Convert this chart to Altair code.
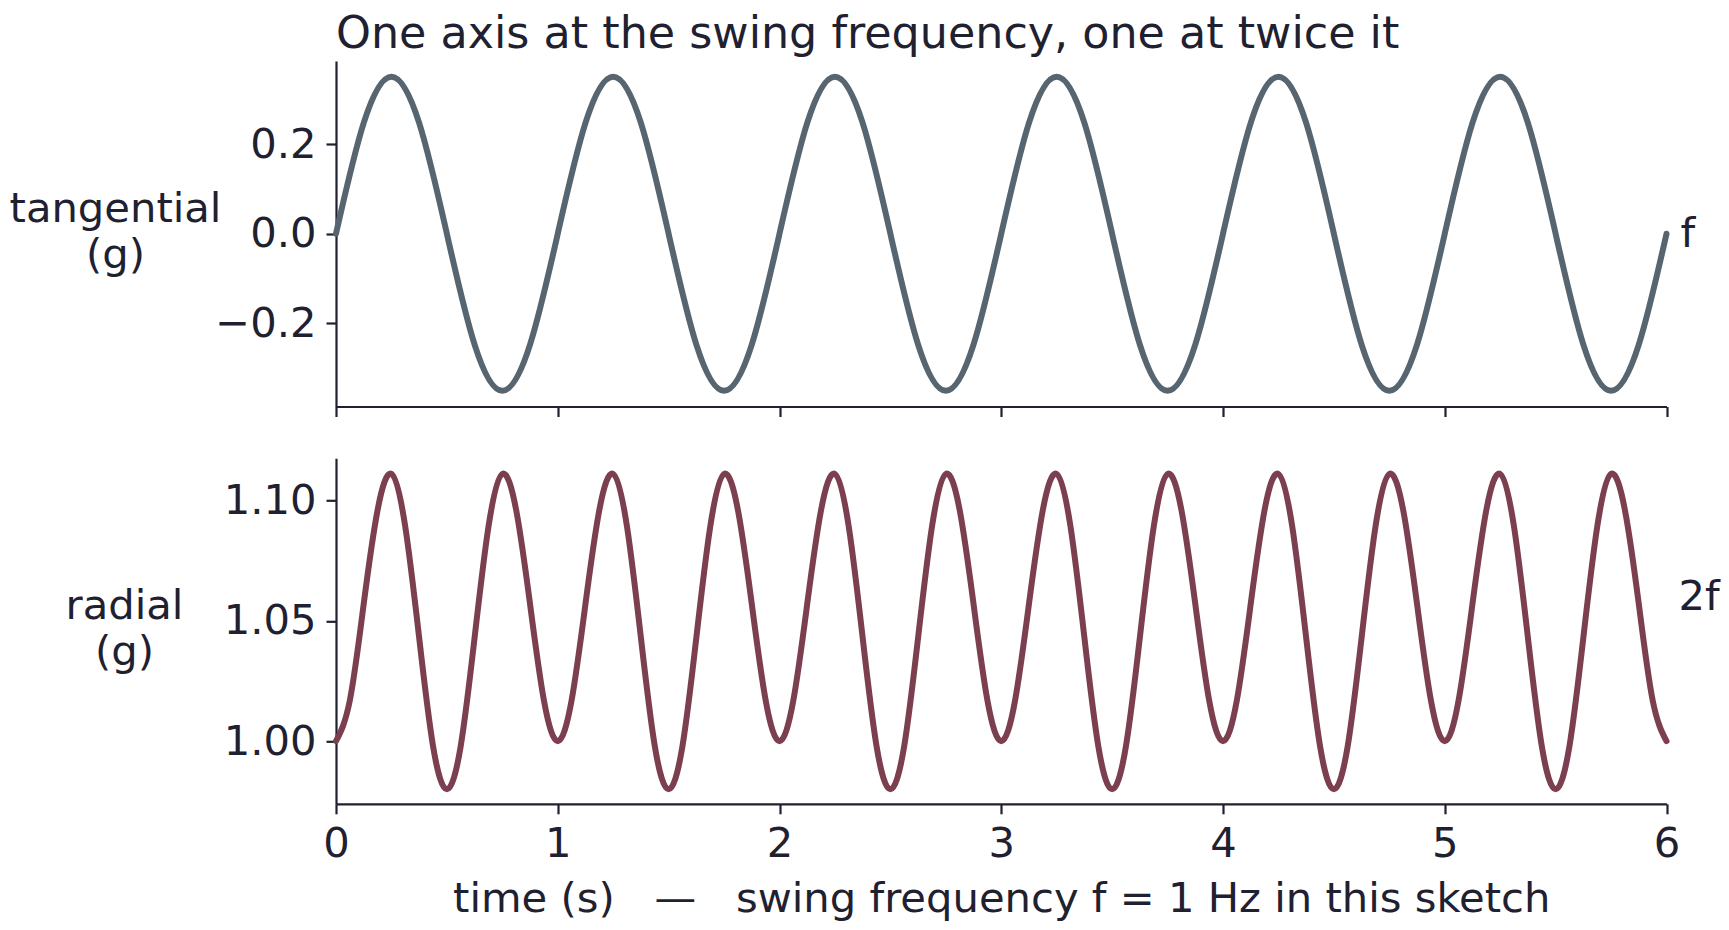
import altair as alt
import pandas as pd

# ---------------- data ----------------
# tangential acceleration, sampled every 1/8 s (swing frequency f = 1 Hz)
t_top = [
    0.0, 0.125, 0.25, 0.375, 0.5, 0.625, 0.75, 0.875,
    1.0, 1.125, 1.25, 1.375, 1.5, 1.625, 1.75, 1.875,
    2.0, 2.125, 2.25, 2.375, 2.5, 2.625, 2.75, 2.875,
    3.0, 3.125, 3.25, 3.375, 3.5, 3.625, 3.75, 3.875,
    4.0, 4.125, 4.25, 4.375, 4.5, 4.625, 4.75, 4.875,
    5.0, 5.125, 5.25, 5.375, 5.5, 5.625, 5.75, 5.875,
    6.0,
]
tangential = [
    0.0, 0.247, 0.35, 0.247, 0.0, -0.247, -0.35, -0.247,
    0.0, 0.247, 0.35, 0.247, 0.0, -0.247, -0.35, -0.247,
    0.0, 0.247, 0.35, 0.247, 0.0, -0.247, -0.35, -0.247,
    0.0, 0.247, 0.35, 0.247, 0.0, -0.247, -0.35, -0.247,
    0.0, 0.247, 0.35, 0.247, 0.0, -0.247, -0.35, -0.247,
    0.0, 0.247, 0.35, 0.247, 0.0, -0.247, -0.35, -0.247,
    0.0,
]

# radial acceleration, sampled every 1/16 s (oscillates at 2f)
t_bot = [
    0.0, 0.0625, 0.125, 0.1875, 0.25, 0.3125, 0.375, 0.4375,
    0.5, 0.5625, 0.625, 0.6875, 0.75, 0.8125, 0.875, 0.9375,
    1.0, 1.0625, 1.125, 1.1875, 1.25, 1.3125, 1.375, 1.4375,
    1.5, 1.5625, 1.625, 1.6875, 1.75, 1.8125, 1.875, 1.9375,
    2.0, 2.0625, 2.125, 2.1875, 2.25, 2.3125, 2.375, 2.4375,
    2.5, 2.5625, 2.625, 2.6875, 2.75, 2.8125, 2.875, 2.9375,
    3.0, 3.0625, 3.125, 3.1875, 3.25, 3.3125, 3.375, 3.4375,
    3.5, 3.5625, 3.625, 3.6875, 3.75, 3.8125, 3.875, 3.9375,
    4.0, 4.0625, 4.125, 4.1875, 4.25, 4.3125, 4.375, 4.4375,
    4.5, 4.5625, 4.625, 4.6875, 4.75, 4.8125, 4.875, 4.9375,
    5.0, 5.0625, 5.125, 5.1875, 5.25, 5.3125, 5.375, 5.4375,
    5.5, 5.5625, 5.625, 5.6875, 5.75, 5.8125, 5.875, 5.9375,
    6.0,
]
radial = [
    1.000, 1.017, 1.057, 1.096, 1.111, 1.089, 1.043, 0.998,
    0.980, 0.998, 1.043, 1.089, 1.111, 1.096, 1.057, 1.017,
    1.000, 1.017, 1.057, 1.096, 1.111, 1.089, 1.043, 0.998,
    0.980, 0.998, 1.043, 1.089, 1.111, 1.096, 1.057, 1.017,
    1.000, 1.017, 1.057, 1.096, 1.111, 1.089, 1.043, 0.998,
    0.980, 0.998, 1.043, 1.089, 1.111, 1.096, 1.057, 1.017,
    1.000, 1.017, 1.057, 1.096, 1.111, 1.089, 1.043, 0.998,
    0.980, 0.998, 1.043, 1.089, 1.111, 1.096, 1.057, 1.017,
    1.000, 1.017, 1.057, 1.096, 1.111, 1.089, 1.043, 0.998,
    0.980, 0.998, 1.043, 1.089, 1.111, 1.096, 1.057, 1.017,
    1.000, 1.017, 1.057, 1.096, 1.111, 1.089, 1.043, 0.998,
    0.980, 0.998, 1.043, 1.089, 1.111, 1.096, 1.057, 1.017,
    1.000,
]

x_ticks = [0, 1, 2, 3, 4, 5, 6]
top_ticks = [-0.2, 0.0, 0.2]
bot_ticks = [1.00, 1.05, 1.10]
top_label = ["f"]
bot_label = ["2f"]

title_text = ["One axis at the swing frequency, one at twice it"]
x_title = "time (s)\u00a0\u00a0\u00a0\u2014\u00a0\u00a0\u00a0swing frequency f = 1 Hz in this sketch"

# ---------------- style ----------------
FONT = "DejaVu Sans"
INK = "#1f2130"
C_TOP = "#56656f"
C_BOT = "#7b3f50"
W = 1330.5
H = 345.5

top_df = pd.DataFrame({"t": t_top, "v": tangential})
bot_df = pd.DataFrame({"t": t_bot, "v": radial})

x_scale = alt.Scale(domain=[0, 6], nice=False, zero=False)

# ---------------- top panel ----------------
top_line = alt.Chart(top_df).mark_line(
    color=C_TOP, strokeWidth=6, interpolate="natural", strokeCap="round"
).encode(
    x=alt.X("t:Q", scale=x_scale,
            axis=alt.Axis(values=x_ticks, labels=False, title=None)),
    y=alt.Y("v:Q",
            scale=alt.Scale(domain=[-0.385, 0.385], nice=False, zero=False),
            axis=alt.Axis(values=top_ticks, format=".1f",
                          title=["tangential", "(g)"], titleAngle=0,
                          titleAlign="center", titleBaseline="middle",
                          titleX=-221, titleY=147.5, titleLineHeight=46)),
)
top_txt = alt.Chart(pd.DataFrame({"lbl": top_label})).mark_text(
    align="left", baseline="middle", dx=14, font=FONT, fontSize=41.7, color=INK
).encode(x=alt.datum(6), y=alt.datum(0), text="lbl:N")

title_mark = alt.Chart(pd.DataFrame({"ttl": title_text})).mark_text(
    align="left", baseline="alphabetic", font=FONT, fontSize=44.4, color=INK
).encode(x=alt.value(0), y=alt.value(-13), text="ttl:N")

top = alt.layer(top_line, top_txt, title_mark).properties(width=W, height=H)

# ---------------- bottom panel ----------------
bot_line = alt.Chart(bot_df).mark_line(
    color=C_BOT, strokeWidth=6, interpolate="natural", strokeCap="round"
).encode(
    x=alt.X("t:Q", scale=x_scale,
            axis=alt.Axis(values=x_ticks, format="d", title=x_title,
                          titleBaseline="alphabetic", titleY=107.4)),
    y=alt.Y("v:Q",
            scale=alt.Scale(domain=[0.974, 1.1175], nice=False, zero=False),
            axis=alt.Axis(values=bot_ticks, format=".2f",
                          title=["radial", "(g)"], titleAngle=0,
                          titleAlign="center", titleBaseline="middle",
                          titleX=-212, titleY=147.5, titleLineHeight=46)),
)
bot_txt = alt.Chart(pd.DataFrame({"lbl": bot_label})).mark_text(
    align="left", baseline="middle", dx=12, font=FONT, fontSize=41.7, color=INK
).encode(x=alt.datum(6), y=alt.value(138.5), text="lbl:N")

bot = alt.layer(bot_line, bot_txt).properties(width=W, height=H)

chart = alt.vconcat(top, bot, spacing=40.3).properties(
    padding={"left": 1, "top": 4, "right": 0, "bottom": 5},
    background="white",
).configure_view(stroke=None).configure_axis(
    grid=False,
    domainColor=INK, domainWidth=2.2,
    tickColor=INK, tickWidth=2.2, tickSize=10,
    labelFont=FONT, labelFontSize=41.7, labelColor=INK, labelPadding=10,
    titleFont=FONT, titleFontSize=41.7, titleColor=INK, titleFontWeight="normal",
    labelFlush=False, labelOverlap=False,
).configure_axisY(labelBaseline="middle")

chart.save("out.html", embed_options={"renderer": "svg", "actions": False})
